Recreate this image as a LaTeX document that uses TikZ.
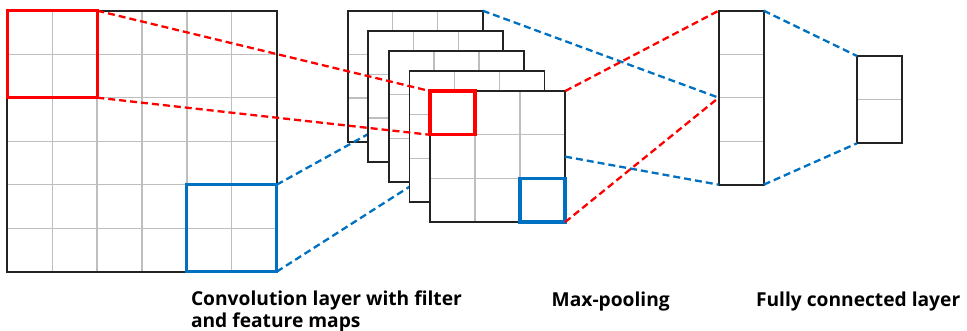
\documentclass[tikz,border=0pt]{standalone}
\usepackage{fontspec}
\setmainfont{Open Sans}
\usetikzlibrary{calc}
\definecolor{cred}{RGB}{255,0,0}
\definecolor{cblue}{RGB}{0,112,192}
\definecolor{cgrid}{RGB}{190,190,190}
\definecolor{cframe}{RGB}{35,35,35}
\tikzset{
  frame/.style={draw=cframe, line width=1.7pt, inner sep=0pt, outer sep=0pt, fill=white, anchor=north west},
  gridline/.style={draw=cgrid, line width=1.3pt},
  cells/.style n args={2}{path picture={
      \foreach \k in {1,...,#1}{
        \pgfmathsetmacro\ff{\k/(#1+1)}
        \draw[gridline] ($(path picture bounding box.north west)!\ff!(path picture bounding box.north east)$) --
                        ($(path picture bounding box.south west)!\ff!(path picture bounding box.south east)$);
      }
      \foreach \k in {1,...,#2}{
        \pgfmathsetmacro\ff{\k/(#2+1)}
        \draw[gridline] ($(path picture bounding box.north west)!\ff!(path picture bounding box.south west)$) --
                        ($(path picture bounding box.north east)!\ff!(path picture bounding box.south east)$);
      }
  }},
  redbox/.style={draw=cred, line width=3.3pt, inner sep=0pt, outer sep=0pt},
  bluebox/.style={draw=cblue, line width=3.3pt, inner sep=0pt, outer sep=0pt},
  reddash/.style={draw=cred, line width=2.3pt, dash pattern=on 7pt off 4pt},
  bluedash/.style={draw=cblue, line width=2.3pt, dash pattern=on 7pt off 4pt},
  lbl/.style={font=\bfseries\fontsize{19.2}{22}\selectfont, inner sep=0pt, outer sep=0pt, align=left},
  mapbox/.style={frame, cells={2}{2}, minimum width=135pt, minimum height=131pt}
}
\begin{document}
\begin{tikzpicture}[x=1pt,y=-1pt]
\useasboundingbox (0,0) rectangle (967,331);

% input image
\node[frame, cells={5}{5}, minimum width=269.4pt, minimum height=261pt] (img) at (7.3,10.7) {};
\node[redbox, anchor=north west, minimum width=90pt, minimum height=87pt] (bigred) at (img.north west) {};
\node[bluebox, anchor=south east, minimum width=90pt, minimum height=87pt] (bigblue) at (img.south east) {};

% feature maps
\node[mapbox] (map1) at (347.7,10.7) {};
\coordinate (b1end) at (368.3,134);
\draw[bluedash] (bigblue.north east) -- (b1end);
\node[mapbox] (map2) at (368.3,30.8) {};
\node[mapbox] (map3) at (388.9,50.9) {};
\coordinate (b2end) at (409.5,186.7);
\draw[bluedash] (bigblue.south east) -- (b2end);
\node[mapbox] (map4) at (409.5,71.0) {};
\node[mapbox] (map5) at (430.1,91.1) {};
\node[redbox, anchor=north west, minimum width=45pt, minimum height=43.7pt] (fred) at (map5.north west) {};
\node[bluebox, anchor=south east, minimum width=45pt, minimum height=43.7pt] (fblue) at (map5.south east) {};

% pooling and fully connected
\node[frame, cells={0}{3}, minimum width=45pt, minimum height=174pt] (pool) at (718.7,10.7) {};
\node[frame, cells={0}{1}, minimum width=45.3pt, minimum height=87.3pt] (fc) at (857,56) {};

% connectors
\draw[reddash] (bigred.north east) -- (fred.north west);
\draw[reddash] (bigred.south east) -- (fred.south west);
\draw[bluedash] (map1.north east) -- (pool.west);
\draw[bluedash] (map5.east) -- (pool.south west);
\draw[reddash] (map5.north east) -- (pool.north west);
\draw[reddash] (map5.south east) -- (pool.west);
\draw[bluedash] (pool.north east) -- (fc.north west);
\draw[bluedash] (pool.south east) -- (fc.south west);

% labels
\node[lbl, anchor=north west] (convlbl) at (191,291) {Convolution layer with filter\\and feature maps};
\node[lbl, anchor=base west] (poollbl) at (551.7,306.5) {Max-pooling};
\node[lbl, anchor=base west] (fclbl) at (756,306.5) {Fully connected layer};
\end{tikzpicture}
\end{document}
